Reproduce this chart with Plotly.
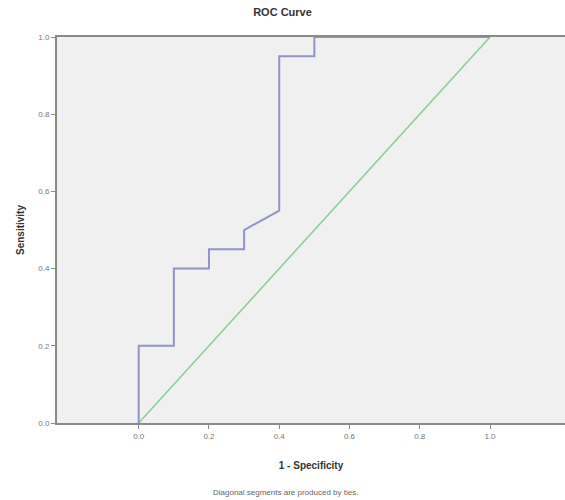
import plotly.graph_objects as go

# ROC curve points (1 - specificity, sensitivity)
fpr = [0.0, 0.0, 0.1, 0.1, 0.2, 0.2, 0.3, 0.3, 0.4, 0.4, 0.5, 0.5, 1.0]
tpr = [0.0, 0.2, 0.2, 0.4, 0.4, 0.45, 0.45, 0.5, 0.55, 0.95, 0.95, 1.0, 1.0]
ref_x = [0.0, 1.0]
ref_y = [0.0, 1.0]
tick_vals = [0.0, 0.2, 0.4, 0.6, 0.8, 1.0]
tick_text = ["0.0", "0.2", "0.4", "0.6", "0.8", "1.0"]

fig = go.Figure()
fig.add_trace(go.Scatter(x=ref_x, y=ref_y, mode="lines",
                         line=dict(color="#86cf94", width=1.5), showlegend=False))
fig.add_trace(go.Scatter(x=fpr, y=tpr, mode="lines",
                         line=dict(color="#9094c6", width=2), showlegend=False))

axis_font = dict(family="Liberation Sans, Arial, sans-serif", size=8, color="#777777")
fig.update_layout(
    width=565, height=500, autosize=False,
    margin=dict(l=57, r=0, t=37, b=77, autoexpand=False),
    paper_bgcolor="white", plot_bgcolor="#f0f0f0",
    title=dict(text="<b>ROC Curve</b>", x=0.5, xanchor="center", y=0.976, yanchor="middle",
               font=dict(family="Liberation Sans, Arial, sans-serif", size=11, color="#333333")),
    xaxis=dict(range=[-0.2326, 1.2135], tickvals=tick_vals, ticktext=tick_text,
               automargin=False,
               showgrid=False, zeroline=False, showline=True, linecolor="#8a8a8a", linewidth=2,
               mirror=True, ticks="outside", ticklen=4, tickcolor="#8a8a8a",
               tickfont=axis_font,
               title=dict(text="<b>1 - Specificity</b>", standoff=22,
                          font=dict(family="Liberation Sans, Arial, sans-serif", size=10, color="#333333"))),
    yaxis=dict(range=[0, 1], tickvals=tick_vals, ticktext=tick_text,
               automargin=False,
               showgrid=False, zeroline=False, showline=True, linecolor="#8a8a8a", linewidth=2,
               mirror=True, ticks="outside", ticklen=4, tickcolor="#8a8a8a",
               tickfont=axis_font,
               title=dict(text="<b>Sensitivity</b>", standoff=12,
                          font=dict(family="Liberation Sans, Arial, sans-serif", size=10, color="#333333"))),
    annotations=[dict(text="Diagonal segments are produced by ties.", xref="paper", yref="paper",
                      x=0.45, y=-0.179, xanchor="center", yanchor="middle", showarrow=False,
                      font=dict(family="Liberation Sans, Arial, sans-serif", size=8, color="#666666"))],
)
post = ("document.body.style.margin='0px';document.body.style.overflow='hidden';"
        "var gd=document.getElementById('{plot_id}');"
        "Plotly.relayout(gd,{width:565,height:500});")
fig.write_html("out.html", config={"responsive": False, "displayModeBar": False}, post_script=post)
